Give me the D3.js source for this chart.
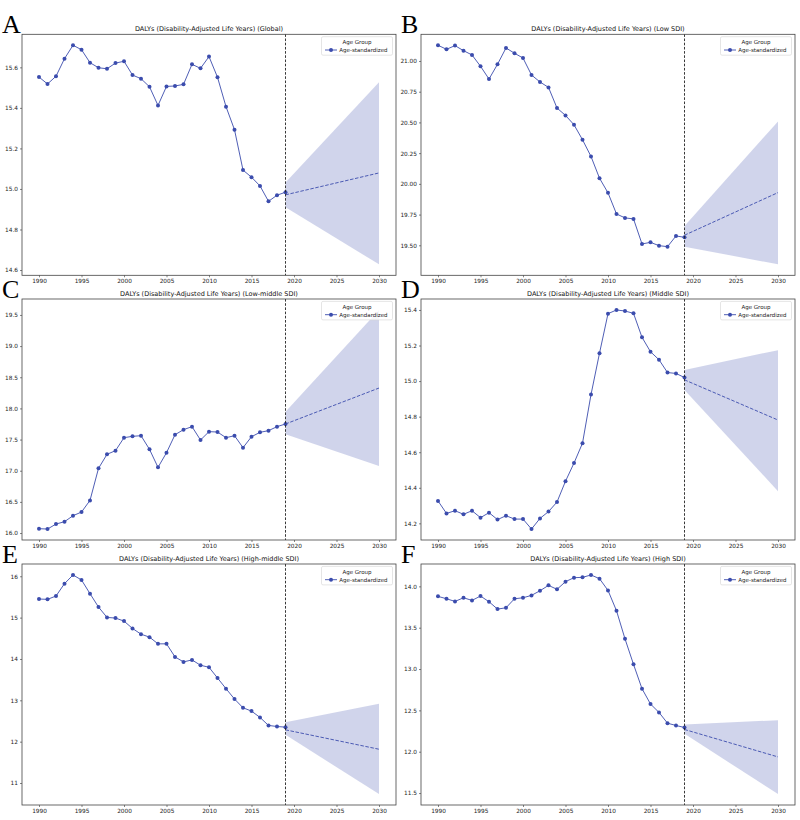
<!DOCTYPE html>
<html><head>
<meta charset="utf-8">
<title>DALYs projections</title>
<script src="https://d3js.org/d3.v7.min.js"></script>
<style>
  body { margin: 0; background: #fff; }
  .axis text { font-family: "DejaVu Sans", sans-serif; font-size: 5.8px; fill: #222; }
  .axis .domain { stroke: none; }
  .axis line { stroke: #333; stroke-width: 0.6; }
  .title { font-family: "DejaVu Sans", sans-serif; font-size: 6.5px; fill: #111; }
  .letter { font-family: "Liberation Serif", "DejaVu Serif", serif; font-size: 26px; fill: #000; }
  .legend text { font-family: "DejaVu Sans", sans-serif; font-size: 5.5px; fill: #222; }
</style>
</head>
<body>
<svg id="chart" width="800" height="820"></svg>

<script>
  // ---- data ----
  const years = [1990,1991,1992,1993,1994,1995,1996,1997,1998,1999,2000,2001,2002,2003,2004,
                 2005,2006,2007,2008,2009,2010,2011,2012,2013,2014,2015,2016,2017,2018,2019];
  const projYears = [2019, 2030];
  const xTicks = [1990, 1995, 2000, 2005, 2010, 2015, 2020, 2025, 2030];

  const letters = ["A", "B", "C", "D", "E", "F"];
  const titles = [
    "DALYs (Disability-Adjusted Life Years) (Global)",
    "DALYs (Disability-Adjusted Life Years) (Low SDI)",
    "DALYs (Disability-Adjusted Life Years) (Low-middle SDI)",
    "DALYs (Disability-Adjusted Life Years) (Middle SDI)",
    "DALYs (Disability-Adjusted Life Years) (High-middle SDI)",
    "DALYs (Disability-Adjusted Life Years) (High SDI)"
  ];

  const globalVals = [15.552,15.518,15.556,15.643,15.709,15.687,15.623,15.598,15.593,15.621,15.630,15.562,15.544,15.504,15.412,
                      15.506,15.508,15.516,15.615,15.595,15.653,15.551,15.406,15.292,15.093,15.058,15.015,14.939,14.969,14.984];
  const lowVals = [21.128,21.095,21.125,21.084,21.049,20.957,20.853,20.973,21.106,21.063,21.024,20.886,20.829,20.785,20.617,
                   20.557,20.481,20.359,20.223,20.046,19.927,19.755,19.723,19.715,19.511,19.524,19.497,19.489,19.576,19.565];
  const lowMidVals = [16.070,16.064,16.144,16.182,16.278,16.337,16.524,17.038,17.263,17.322,17.530,17.552,17.562,17.343,17.054,
                      17.289,17.578,17.659,17.707,17.493,17.627,17.621,17.530,17.562,17.370,17.546,17.616,17.643,17.707,17.750];
  const midVals = [14.326,14.256,14.271,14.251,14.271,14.232,14.260,14.221,14.243,14.224,14.224,14.168,14.228,14.266,14.320,
                   14.437,14.539,14.651,14.924,15.157,15.379,15.400,15.394,15.381,15.246,15.165,15.120,15.048,15.043,15.020];
  const highMidVals = [15.450,15.442,15.523,15.822,16.032,15.911,15.579,15.256,15.005,14.989,14.916,14.738,14.600,14.528,14.366,
                       14.366,14.050,13.929,13.977,13.848,13.799,13.540,13.282,13.031,12.820,12.739,12.586,12.392,12.367,12.351];
  const highVals = [13.879,13.850,13.818,13.862,13.830,13.883,13.814,13.725,13.741,13.850,13.862,13.891,13.947,14.012,13.964,
                    14.057,14.105,14.109,14.138,14.093,13.951,13.705,13.365,13.057,12.762,12.577,12.475,12.345,12.317,12.293];

  // projection 2019 -> 2030 : mean, lower and upper bound
  const projMean  = [[14.971, 15.079], [19.582, 19.929], [17.750, 18.327], [15.007, 14.781], [12.286, 11.817], [12.269, 11.937]];
  const projLower = [[14.910, 14.628], [19.489, 19.345], [17.584, 17.075], [14.950, 14.381], [12.165, 10.733], [12.216, 11.488]];
  const projUpper = [[15.032, 15.527], [19.658, 20.508], [17.948, 19.580], [15.063, 15.174], [12.472, 12.917], [12.329, 12.382]];

  const yTicks = [
    [14.6, 14.8, 15.0, 15.2, 15.4, 15.6],
    [19.50, 19.75, 20.00, 20.25, 20.50, 20.75, 21.00],
    [16.0, 16.5, 17.0, 17.5, 18.0, 18.5, 19.0, 19.5],
    [14.2, 14.4, 14.6, 14.8, 15.0, 15.2, 15.4],
    [11, 12, 13, 14, 15, 16],
    [11.5, 12.0, 12.5, 13.0, 13.5, 14.0]
  ];
  const yFormats = [".1f", ".2f", ".1f", ".1f", "d", ".1f"];

  const series = [globalVals, lowVals, lowMidVals, midVals, highMidVals, highVals];

  // ---- layout ----
  const svg = d3.select("svg#chart");
  const colLeft = [22, 421];
  const rowTop = [34.3, 299, 564];
  const plotW = 374;
  const plotH = 241;
  const color = "#3b4cad";

  series.forEach((vals, i) => {
    const left = colLeft[i % 2];
    const top = rowTop[Math.floor(i / 2)];
    const g = svg.append("g").attr("transform", "translate(" + left + "," + top + ")");

    // scales: matplotlib style 5% margins
    const allY = vals.concat(projLower[i], projUpper[i], projMean[i]);
    const ext = d3.extent(allY);
    const pad = (ext[1] - ext[0]) * 0.05;
    const x = d3.scaleLinear().domain([1988, 2032]).range([0, plotW]);
    const y = d3.scaleLinear().domain([ext[0] - pad, ext[1] + pad]).range([plotH, 0]);

    // uncertainty band
    const band = projYears.map((yr, k) => ({ yr: yr, lo: projLower[i][k], hi: projUpper[i][k] }));
    g.append("path")
      .datum(band)
      .attr("d", d3.area().x(d => x(d.yr)).y0(d => y(d.lo)).y1(d => y(d.hi)))
      .attr("fill", color)
      .attr("fill-opacity", 0.24);

    // projection line
    const proj = projYears.map((yr, k) => ({ yr: yr, v: projMean[i][k] }));
    g.append("path")
      .datum(proj)
      .attr("d", d3.line().x(d => x(d.yr)).y(d => y(d.v)))
      .attr("fill", "none")
      .attr("stroke", color)
      .attr("stroke-width", 0.9)
      .attr("stroke-dasharray", "3.5,1.6");

    // observed line + markers
    const pts = years.map((yr, k) => ({ yr: yr, v: vals[k] }));
    g.append("path")
      .datum(pts)
      .attr("d", d3.line().x(d => x(d.yr)).y(d => y(d.v)))
      .attr("fill", "none")
      .attr("stroke", color)
      .attr("stroke-width", 0.9);
    g.selectAll("circle.pt").data(pts).enter().append("circle")
      .attr("class", "pt")
      .attr("cx", d => x(d.yr))
      .attr("cy", d => y(d.v))
      .attr("r", 2)
      .attr("fill", color);

    // vertical dashed line at 2019
    g.append("line")
      .attr("x1", x(2019)).attr("x2", x(2019))
      .attr("y1", 0).attr("y2", plotH)
      .attr("stroke", "#222")
      .attr("stroke-width", 0.9)
      .attr("stroke-dasharray", "2.6,1.6");

    // axes
    g.append("g").attr("class", "axis")
      .attr("transform", "translate(0," + plotH + ")")
      .call(d3.axisBottom(x).tickValues(xTicks).tickFormat(d3.format("d")).tickSize(2).tickPadding(2));
    g.append("g").attr("class", "axis")
      .call(d3.axisLeft(y).tickValues(yTicks[i]).tickFormat(d3.format(yFormats[i])).tickSize(2).tickPadding(2));

    // frame
    g.append("rect")
      .attr("width", plotW).attr("height", plotH)
      .attr("fill", "none").attr("stroke", "#444").attr("stroke-width", 0.8);

    // title and panel letter
    g.append("text").attr("class", "title")
      .attr("x", plotW / 2).attr("y", -3.2)
      .attr("text-anchor", "middle")
      .text(titles[i]);
    svg.append("text").attr("class", "letter")
      .attr("x", left - 20).attr("y", top - 1.5)
      .text(letters[i]);

    // legend
    const lg = g.append("g").attr("class", "legend").attr("transform", "translate(" + (plotW - 74.5) + ",2.4)");
    lg.append("rect")
      .attr("width", 71).attr("height", 18.5).attr("rx", 1.5)
      .attr("fill", "#fff").attr("fill-opacity", 0.8)
      .attr("stroke", "#d4d4d4").attr("stroke-width", 0.6);
    lg.append("text").attr("x", 35.5).attr("y", 7.5).attr("text-anchor", "middle").text("Age Group");
    lg.append("line").attr("x1", 3.5).attr("x2", 15.5).attr("y1", 13.3).attr("y2", 13.3)
      .attr("stroke", color).attr("stroke-width", 0.9);
    lg.append("circle").attr("cx", 9.5).attr("cy", 13.3).attr("r", 2).attr("fill", color);
    lg.append("text").attr("x", 17.8).attr("y", 15.3).text("Age-standardized");
  });
</script>
</body>
</html>
